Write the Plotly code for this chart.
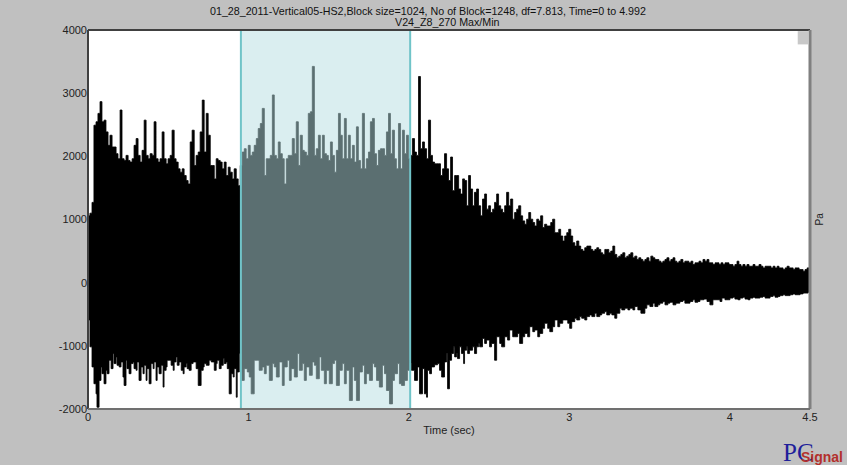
import plotly.graph_objects as go

# ---- data: per-block Max / Min envelope of V24_Z8_270 (Pa) vs time (sec) ----
max_t = [0.000,0.012,0.025,0.037,0.050,0.062,0.075,0.087,0.100,0.112,0.125,0.137,0.150,0.162,0.175,0.187,0.200,0.212,0.225,0.237,
0.250,0.262,0.275,0.287,0.300,0.312,0.325,0.337,0.350,0.362,0.375,0.387,0.400,0.412,0.424,0.437,0.449,0.462,0.474,0.487,
0.499,0.512,0.524,0.537,0.549,0.562,0.574,0.587,0.599,0.612,0.624,0.637,0.649,0.662,0.674,0.687,0.699,0.712,0.724,0.737,
0.749,0.762,0.774,0.787,0.799,0.811,0.824,0.836,0.849,0.861,0.874,0.886,0.899,0.911,0.924,0.936,0.949,0.961,0.974,0.986,
0.999,1.011,1.024,1.036,1.049,1.061,1.074,1.086,1.099,1.111,1.124,1.136,1.149,1.161,1.174,1.186,1.198,1.211,1.223,1.236,
1.248,1.261,1.273,1.286,1.298,1.311,1.323,1.336,1.348,1.361,1.373,1.386,1.398,1.411,1.423,1.436,1.448,1.461,1.473,1.486,
1.498,1.511,1.523,1.536,1.548,1.561,1.573,1.585,1.598,1.610,1.623,1.635,1.648,1.660,1.673,1.685,1.698,1.710,1.723,1.735,
1.748,1.760,1.773,1.785,1.798,1.810,1.823,1.835,1.848,1.860,1.873,1.885,1.897,1.910,1.922,1.935,1.948,1.960,1.972,1.985,
1.997,2.010,2.022,2.035,2.047,2.060,2.072,2.085,2.097,2.110,2.122,2.135,2.147,2.160,2.172,2.185,2.197,2.210,2.222,2.235,
2.247,2.260,2.272,2.285,2.297,2.310,2.322,2.335,2.347,2.360,2.372,2.384,2.397,2.409,2.422,2.434,2.447,2.459,2.472,2.484,
2.497,2.509,2.522,2.534,2.547,2.559,2.572,2.584,2.597,2.609,2.622,2.634,2.647,2.659,2.672,2.684,2.697,2.709,2.722,2.734,
2.747,2.759,2.772,2.784,2.797,2.809,2.821,2.834,2.846,2.859,2.871,2.884,2.896,2.909,2.921,2.934,2.946,2.959,2.971,2.984,
2.996,3.009,3.021,3.034,3.046,3.059,3.071,3.084,3.096,3.109,3.121,3.134,3.146,3.159,3.171,3.183,3.196,3.208,3.221,3.233,
3.246,3.258,3.271,3.283,3.296,3.308,3.321,3.333,3.346,3.358,3.371,3.383,3.396,3.408,3.421,3.433,3.446,3.458,3.471,3.483,
3.496,3.508,3.521,3.533,3.546,3.558,3.571,3.583,3.596,3.608,3.621,3.633,3.646,3.658,3.670,3.683,3.695,3.708,3.720,3.733,
3.745,3.758,3.770,3.783,3.795,3.808,3.820,3.833,3.845,3.858,3.870,3.883,3.895,3.908,3.920,3.933,3.945,3.958,3.970,3.983,
3.995,4.008,4.020,4.032,4.045,4.057,4.070,4.082,4.095,4.107,4.120,4.132,4.145,4.157,4.170,4.182,4.195,4.207,4.220,4.232,
4.245,4.257,4.270,4.282,4.295,4.307,4.320,4.332,4.345,4.357,4.370,4.382,4.395,4.407,4.420,4.432,4.444,4.457,4.469,4.482,
4.494,4.500]
max_v = [1058,1100,1271,2493,2547,2680,2866,2547,2573,2387,2174,2334,2148,2148,2042,1962,2733,1962,1935,2015,
1935,1909,1962,2174,2281,2015,1909,2095,2573,2015,1962,2042,2015,2547,1962,1909,1962,2387,1962,1882,
1962,2015,2414,1962,1909,1802,1749,1802,1696,1616,1563,2228,2414,1855,2015,2068,2387,2890,2068,2680,
2334,1855,1855,1643,1962,1935,1909,1802,1909,1696,1829,1749,1643,1802,1643,1536,1855,2068,2121,1962,
2174,2015,2068,2174,2281,2440,2520,2759,1696,1962,1962,2015,2972,2015,1962,2228,2042,1962,1563,1962,
2015,2015,2281,2042,2547,1855,2334,2095,2068,2015,2680,2706,3424,2015,2121,2334,1962,2334,2042,2015,
1935,2228,2015,1749,2095,2680,2334,1962,2600,1962,2334,1962,2174,1909,2467,1935,1802,2680,1802,1962,
2068,2547,2600,2042,1855,2095,2121,2121,2015,2387,2680,2042,2414,1962,1802,2520,1802,2414,2042,2334,
1962,2015,2281,2068,2015,3264,2121,2228,2121,1962,2573,2015,1909,1882,1882,1882,1696,1802,2042,1802,
1616,1989,1457,1696,1696,1483,1404,1643,1616,1217,1696,1483,1217,1430,1483,1217,1058,1324,1404,1164,
1217,1111,1164,1271,1404,1217,1164,1111,1217,1430,1217,1324,1005,1111,1164,1217,1058,978,925,1005,
1111,1005,952,898,1005,978,1058,872,925,898,898,952,1005,792,792,845,739,659,739,792,
845,739,633,579,659,579,526,500,553,579,579,526,500,526,553,526,473,447,526,526,
473,500,579,447,394,420,447,473,394,420,447,473,394,420,367,394,367,340,367,394,
340,420,394,367,367,340,314,340,367,394,340,367,394,340,314,340,367,314,340,340,
314,340,287,314,314,340,314,367,340,367,314,314,287,314,314,287,314,287,314,314,
287,287,260,287,340,287,260,287,260,287,260,260,287,260,260,287,260,234,260,260,
260,234,260,234,260,234,234,207,234,260,234,234,207,234,234,207,207,180,207,234,
207,207]

min_t = [0.000,0.012,0.025,0.037,0.050,0.056,0.069,0.081,0.087,0.100,0.112,0.119,0.131,0.144,0.156,0.162,0.175,0.181,0.194,0.206,
0.218,0.225,0.237,0.243,0.256,0.268,0.281,0.287,0.300,0.306,0.318,0.331,0.343,0.350,0.362,0.368,0.381,0.393,0.406,0.412,
0.424,0.431,0.443,0.456,0.468,0.474,0.487,0.493,0.506,0.518,0.531,0.537,0.549,0.556,0.568,0.581,0.593,0.599,0.612,0.618,
0.630,0.643,0.655,0.674,0.687,0.705,0.718,0.724,0.737,0.755,0.768,0.787,0.799,0.805,0.818,0.830,0.843,0.849,0.861,0.868,
0.880,0.893,0.905,0.911,0.924,0.930,0.943,0.955,0.974,0.993,1.005,1.017,1.036,1.055,1.067,1.080,1.086,1.099,1.111,1.130,
1.149,1.161,1.174,1.192,1.211,1.223,1.242,1.255,1.267,1.286,1.305,1.317,1.336,1.348,1.361,1.380,1.398,1.411,1.423,1.442,
1.454,1.473,1.486,1.504,1.523,1.536,1.548,1.567,1.585,1.598,1.610,1.629,1.648,1.660,1.673,1.692,1.710,1.723,1.735,1.754,
1.773,1.785,1.798,1.816,1.835,1.848,1.860,1.879,1.898,1.910,1.929,1.941,1.954,1.973,1.991,2.004,2.016,2.035,2.054,2.066,
2.085,2.097,2.110,2.116,2.129,2.141,2.160,2.179,2.191,2.204,2.222,2.235,2.241,2.253,2.266,2.278,2.285,2.297,2.303,2.316,
2.328,2.341,2.347,2.360,2.366,2.378,2.397,2.409,2.422,2.434,2.441,2.459,2.472,2.484,2.503,2.515,2.534,2.547,2.566,2.578,
2.597,2.615,2.628,2.647,2.659,2.678,2.690,2.709,2.722,2.740,2.753,2.772,2.784,2.803,2.815,2.834,2.846,2.865,2.878,2.896,
2.909,2.928,2.940,2.959,2.971,2.990,3.002,3.015,3.034,3.046,3.065,3.077,3.096,3.109,3.127,3.140,3.159,3.171,3.190,3.202,
3.221,3.233,3.252,3.265,3.283,3.296,3.315,3.327,3.346,3.365,3.377,3.396,3.408,3.427,3.446,3.471,3.483,3.502,3.521,3.533,
3.552,3.564,3.583,3.596,3.614,3.627,3.646,3.664,3.689,3.708,3.720,3.739,3.752,3.770,3.783,3.801,3.814,3.839,3.858,3.876,
3.895,3.914,3.939,3.951,3.970,3.989,4.001,4.020,4.032,4.051,4.064,4.082,4.095,4.114,4.126,4.145,4.157,4.176,4.188,4.207,
4.220,4.238,4.251,4.270,4.282,4.301,4.313,4.332,4.345,4.363,4.376,4.394,4.407,4.426,4.438,4.457,4.469,4.488,4.500]
min_v = [-320,-590,-1016,-1334,-1600,-1760,-1972,-1547,-1334,-1441,-1600,-1388,-1441,-1228,-1361,-1122,-1281,-1175,-1308,-1334,
-1255,-1494,-1627,-1228,-1361,-1441,-1281,-1255,-1361,-1388,-1255,-1547,-1334,-1441,-1308,-1547,-1361,-1600,-1281,-1361,
-1255,-1547,-1334,-1441,-1308,-1653,-1388,-1334,-1228,-1228,-1308,-1388,-1255,-1175,-1308,-1255,-1388,-1441,-1334,-1281,
-1361,-1388,-1281,-1255,-1361,-1627,-1388,-1334,-1281,-1308,-1228,-1255,-1388,-1281,-1228,-1361,-1308,-1202,-1281,-1255,
-1361,-1760,-1441,-1494,-1361,-1813,-1414,-1122,-1547,-1361,-1414,-1494,-1760,-1228,-1228,-1388,-1388,-1334,-1441,-1308,
-1547,-1281,-1334,-1494,-1255,-1627,-1334,-1228,-1547,-1361,-1494,-1122,-1388,-1281,-1547,-1334,-1467,-1255,-1308,-1521,
-1175,-1388,-1600,-1388,-1600,-1281,-1228,-1627,-1388,-1281,-1600,-1388,-1866,-1334,-1547,-1866,-1414,-1308,-1600,-1441,
-1547,-1281,-1334,-1547,-1653,-1308,-1441,-1707,-1919,-1547,-1441,-1281,-1600,-1627,-1547,-1388,-1281,-1388,-1547,-1334,
-1760,-1361,-1760,-1813,-1388,-1441,-1334,-1300,-1281,-1388,-1494,-1255,-1122,-1680,-1228,-1122,-1016,-1175,-1122,-1202,
-1016,-1122,-1281,-1069,-1016,-1122,-1069,-1016,-1122,-1016,-962,-1016,-882,-962,-909,-1016,-962,-1228,-856,-962,
-1016,-856,-909,-750,-856,-856,-803,-962,-856,-803,-856,-697,-776,-750,-856,-803,-723,-643,-723,-776,
-697,-590,-697,-643,-590,-590,-643,-723,-617,-563,-590,-537,-563,-590,-537,-510,-537,-484,-537,-510,
-484,-457,-510,-484,-510,-563,-484,-404,-431,-404,-431,-404,-431,-378,-431,-484,-404,-351,-378,-324,
-378,-351,-324,-298,-351,-324,-310,-351,-324,-298,-280,-324,-324,-298,-271,-310,-298,-271,-260,-298,
-351,-271,-271,-298,-244,-271,-271,-244,-230,-260,-271,-244,-230,-260,-271,-244,-230,-244,-244,-230,
-218,-244,-244,-218,-205,-230,-218,-205,-191,-205,-205,-191,-178,-191,-191,-178,-165,-165,-150]

x_ticks = [0, 1, 2, 3, 4, 4.5]
x_tick_text = ["0", "1", "2", "3", "4", "4.5"]
y_ticks = [-2000, -1000, 0, 1000, 2000, 3000, 4000]
y_tick_text = ["-2000", "-1000", "0", "1000", "2000", "3000", "4000"]
sel_start, sel_end = 0.953, 2.008  # highlighted time window (sec)

title_line1 = "01_28_2011-Vertical05-HS2,Block size=1024, No of Block=1248, df=7.813, Time=0 to 4.992"
title_line2 = "V24_Z8_270 Max/Min"

FONT = "Liberation Sans, Arial, sans-serif"

# one closed envelope polygon: Max forward, Min backward
env_x = max_t + min_t[::-1]
env_y = max_v + min_v[::-1]

fig = go.Figure()
fig.add_trace(go.Scatter(x=env_x, y=env_y, mode="lines", line=dict(color="black", width=0.8, shape="hv"),
                         fill="toself", fillcolor="black", hoverinfo="skip", showlegend=False))

# highlighted selection window
fig.add_shape(type="rect", xref="x", yref="paper", x0=sel_start, x1=sel_end, y0=0, y1=1,
              fillcolor="rgba(181,221,225,0.5)", line=dict(color="rgb(112,196,200)", width=2), layer="above")

# plot frame
fig.add_shape(type="line", xref="paper", yref="paper", x0=0, x1=0, y0=0, y1=1, line=dict(color="#404040", width=2))
fig.add_shape(type="line", xref="paper", yref="paper", x0=0, x1=1, y0=1, y1=1, line=dict(color="#404040", width=2))
fig.add_shape(type="line", xref="paper", yref="paper", x0=1, x1=1, y0=0, y1=1, line=dict(color="#808080", width=3))
fig.add_shape(type="line", xref="paper", yref="paper", x0=0, x1=1, y0=0, y1=0, line=dict(color="#707070", width=2))
# small gray box in the top-right corner
fig.add_shape(type="rect", xref="paper", yref="paper", x0=0.983, x1=0.998, y0=0.962, y1=0.997,
              fillcolor="#c8c8c8", line=dict(width=0), layer="above")

fig.add_annotation(text=title_line1, xref="paper", yref="paper", x=(428 - 88) / 722, y=1 + 19 / 379,
                   showarrow=False, xanchor="center", yanchor="middle", font=dict(size=10.7, color="#111", family=FONT))
fig.add_annotation(text=title_line2, xref="paper", yref="paper", x=(447 - 88) / 722, y=1 + 8 / 379,
                   showarrow=False, xanchor="center", yanchor="middle", font=dict(size=10.7, color="#111", family=FONT))
fig.add_annotation(text="Pa", xref="paper", yref="paper", x=1.0125, y=0.5, textangle=-90,
                   showarrow=False, xanchor="center", yanchor="middle", font=dict(size=10, color="#222", family=FONT))
# logo
fig.add_annotation(text="PC", xref="paper", yref="paper", x=(781 - 88) / 722, y=-(43 / 379),
                   showarrow=False, xanchor="left", yanchor="middle",
                   font=dict(size=25, color="#1f1f9a", family="Liberation Serif, Times New Roman, serif"))
fig.add_annotation(text="<b>Signal</b>", xref="paper", yref="paper", x=(799 - 88) / 722, y=-(48 / 379),
                   showarrow=False, xanchor="left", yanchor="middle",
                   font=dict(size=14, color="#b3302c", family=FONT))

fig.update_layout(
    width=847, height=465,
    margin=dict(l=88, r=37, t=30, b=56),
    paper_bgcolor="#c0c0c0", plot_bgcolor="white",
    font=dict(family=FONT, size=11, color="#222"),
    showlegend=False,
    xaxis=dict(range=[0, 4.5], tickmode="array", tickvals=x_ticks, ticktext=x_tick_text,
               showgrid=False, zeroline=False, showline=False, ticks="", ticklen=0,
               title=dict(text="Time (sec)", standoff=4, font=dict(size=11, color="#222")),
               tickfont=dict(size=11, color="#222")),
    yaxis=dict(range=[-2000, 4000], tickmode="array", tickvals=y_ticks, ticktext=y_tick_text,
               showgrid=False, zeroline=False, showline=False, ticks="",
               tickfont=dict(size=11, color="#222")),
)

fig.write_html("out.html", config={"displayModeBar": False},
               post_script="document.body.style.margin='0px';document.body.style.background='#c0c0c0';")
